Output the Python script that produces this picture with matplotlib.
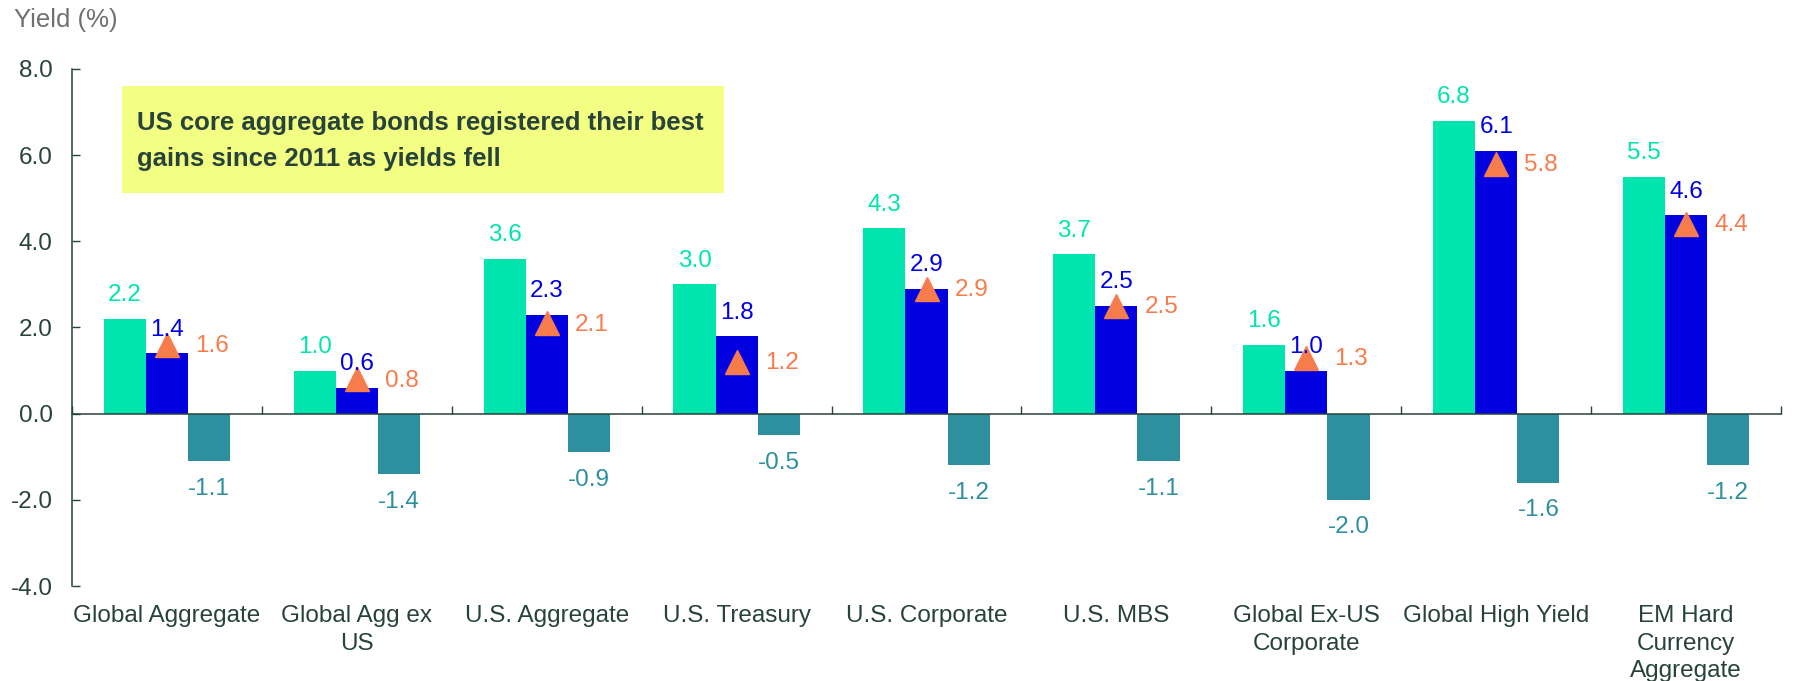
import matplotlib.pyplot as plt
from matplotlib.patches import Rectangle
from matplotlib.transforms import blended_transform_factory

plt.rcParams['font.family'] = ['Liberation Sans', 'DejaVu Sans']

categories = ['Global Aggregate', 'Global Agg ex\nUS', 'U.S. Aggregate', 'U.S. Treasury',
              'U.S. Corporate', 'U.S. MBS', 'Global Ex-US\nCorporate', 'Global High Yield',
              'EM Hard\nCurrency\nAggregate']
start_yield = [2.2, 1.0, 3.6, 3.0, 4.3, 3.7, 1.6, 6.8, 5.5]
end_yield = [1.4, 0.6, 2.3, 1.8, 2.9, 2.5, 1.0, 6.1, 4.6]
marker_yield = [1.6, 0.8, 2.1, 1.2, 2.9, 2.5, 1.3, 5.8, 4.4]
yield_change = [-1.1, -1.4, -0.9, -0.5, -1.2, -1.1, -2.0, -1.6, -1.2]
y_ticks = [-4.0, -2.0, 0.0, 2.0, 4.0, 6.0, 8.0]

GREEN = '#00E5AD'
BLUE = '#0000E1'
TEAL = '#2E8F9E'
ORANGE = '#F77C4C'
DARK = '#27433A'
FS = 17.5

fig = plt.figure(figsize=(17.93, 6.81), dpi=100)
ax = fig.add_axes([0.0402, 0.1395, 0.9531, 0.7592])

x = list(range(len(categories)))
w = 0.222
ax.bar([i - w for i in x], start_yield, w, color=GREEN)
ax.bar(x, end_yield, w, color=BLUE)
ax.bar([i + w for i in x], yield_change, w, color=TEAL)
ax.plot(x, marker_yield, linestyle='none', marker='^', markersize=17, color=ORANGE)

# value labels
for i in x:
    ax.annotate(f'{start_yield[i]:.1f}', (i - w, start_yield[i]), xytext=(0, 9),
                textcoords='offset points', ha='center', va='bottom', fontsize=FS, color=GREEN)
    ax.annotate(f'{end_yield[i]:.1f}', (i, end_yield[i]), xytext=(0, 9),
                textcoords='offset points', ha='center', va='bottom', fontsize=FS, color=BLUE)
    ax.annotate(f'{yield_change[i]:.1f}', (i + w, yield_change[i]), xytext=(0, -12),
                textcoords='offset points', ha='center', va='top', fontsize=FS, color=TEAL)
    ax.annotate(f'{marker_yield[i]:.1f}', (i + w, marker_yield[i]), xytext=(2, -1),
                textcoords='offset points', ha='center', va='center', fontsize=FS, color=ORANGE)

ax.set_xlim(-0.5, len(categories) - 0.5)
ax.set_ylim(-4, 8)
ax.set_yticks(y_ticks)
ax.set_yticklabels([f'{t:.1f}' for t in y_ticks])

for s in ['top', 'right']:
    ax.spines[s].set_visible(False)
ax.spines['bottom'].set_position(('data', 0))
ax.spines['left'].set_color(DARK)
ax.spines['bottom'].set_color(DARK)
ax.spines['left'].set_linewidth(1.1)
ax.spines['bottom'].set_linewidth(1.1)

ax.set_xticks([i - 0.5 for i in range(len(categories) + 1)])
ax.set_xticklabels([])
ax.tick_params(axis='x', direction='in', length=6, color=DARK, width=1)
ax.tick_params(axis='y', direction='in', length=6, color=DARK, width=1,
               labelsize=FS, labelcolor=DARK, pad=14)

# category labels below the plot area
trans = blended_transform_factory(ax.transData, ax.transAxes)
for i, lab in enumerate(categories):
    ax.annotate(lab, (i, 0), xycoords=trans, xytext=(0, -14), textcoords='offset points',
                ha='center', va='top', fontsize=FS, color=DARK, linespacing=1.3,
                annotation_clip=False)

fig.text(0.008, 0.97, 'Yield (%)', fontsize=18.5, color='#707070', ha='left', va='center')

# highlighted note
fig.patches.append(Rectangle((0.068, 0.7166), 0.336, 0.157, transform=fig.transFigure,
                             facecolor='#F2FF82', edgecolor='none', zorder=5))
fig.text(0.0764, 0.793, 'US core aggregate bonds registered their best\ngains since 2011 as yields fell',
         fontsize=18.5, fontweight='bold', color=DARK, ha='left', va='center',
         linespacing=1.65, zorder=6)

fig.savefig('out.png', dpi=100)
plt.close(fig)
